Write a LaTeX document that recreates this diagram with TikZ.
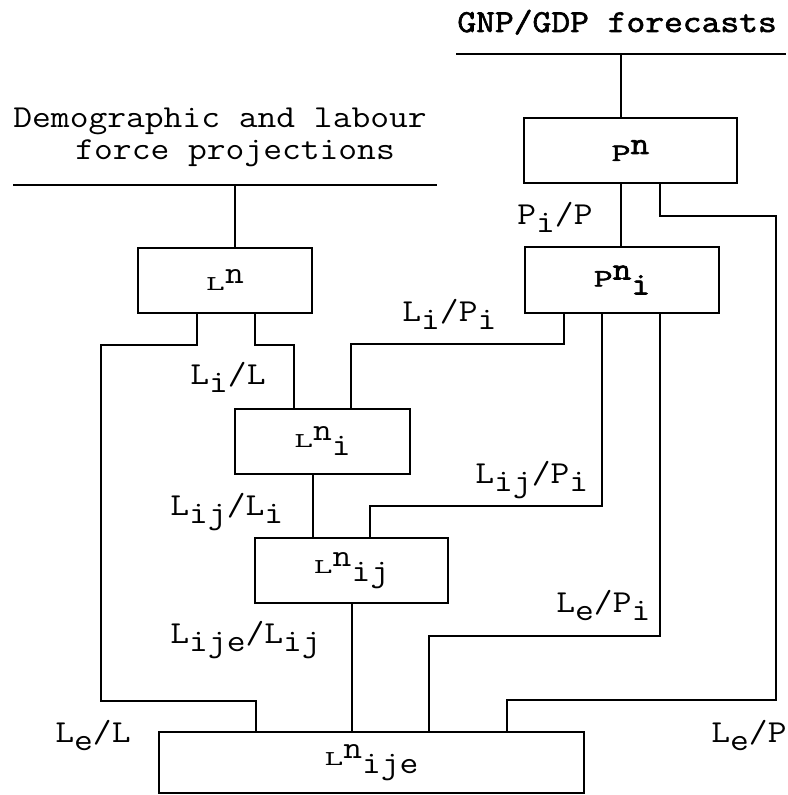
\documentclass[tikz,border=0pt]{standalone}
\usepackage{fontspec}
\setmainfont{Latin Modern Mono}[FakeStretch=1.14,BoldFont=Latin Modern Mono,BoldFeatures={FakeBold=2}]
\usepackage{graphicx}
\newcommand{\bl}[1]{\scalebox{1}[0.66]{#1}}
\newcommand{\bp}[1]{\scalebox{1}[0.78]{#1}}
\newcommand{\su}[1]{\raisebox{3.5pt}{#1}}
\newcommand{\sd}[1]{\raisebox{-4pt}{#1}}
\begin{document}
\begin{tikzpicture}[x=0.5pt,y=-0.5pt,
  every node/.style={font=\fontsize{16}{16}\selectfont},
  box/.style={draw,line width=1pt,inner sep=0pt},
  wire/.style={line width=0.8pt},
  bar/.style={line width=1.3pt},
  lab/.style={anchor=base west,inner sep=0pt}]
\useasboundingbox (0,0) rectangle (787,795);
% headings
\node[lab] (gnp) at (457,32) {\textbf{GNP/GDP forecasts}};
\node[lab] (demo1) at (13,128) {Demographic and labour};
\node[lab] (demo2) at (75,160) {force projections};
\coordinate (gl) at (456,54); \coordinate (gr) at (786,54);
\coordinate (dl) at (13,185); \coordinate (dr) at (437,185);
\draw[bar] (gl) -- (gr);
\draw[bar] (dl) -- (dr);
% boxes
\node[box,minimum width=106.5pt,minimum height=32.5pt] (pn) at (630.5,150.5) {\textbf{\bp{P}\su{n}}};
\node[box,minimum width=97pt,minimum height=33pt] (pni) at (622,280) {\textbf{\bp{P}\su{n}\sd{i}}};
\node[box,minimum width=87pt,minimum height=32.5pt] (ln) at (225,280.5) {\bl{L}\su{n}};
\node[box,minimum width=87.5pt,minimum height=32.5pt] (lni) at (322.5,441.5) {\bl{L}\su{n}\sd{i}};
\node[box,minimum width=96.5pt,minimum height=32.5pt] (lnij) at (351.5,570.5) {\bl{L}\su{n}\sd{ij}};
\node[box,minimum width=212.5pt,minimum height=30.5pt] (lnije) at (371.5,762.5) {\bl{L}\su{n}\sd{ije}};
% junction coordinates
\coordinate (gj) at (621,54);
\coordinate (dj) at (235,185);
\coordinate (r1) at (660,216); \coordinate (r2) at (776,700); \coordinate (r3) at (507,700);
\coordinate (a1) at (564,344); \coordinate (a2) at (351,344);
\coordinate (b1) at (602,506); \coordinate (b2) at (370,506);
\coordinate (e1) at (660,636); \coordinate (e2) at (429,636);
\coordinate (f1) at (197,345); \coordinate (f2) at (101,345); \coordinate (f3) at (101,701); \coordinate (f4) at (256,701);
\coordinate (g1) at (255,345); \coordinate (g2) at (294,345);
\coordinate (h) at (313,500);
\coordinate (k) at (352,650);
% connectors
\draw[wire] (gj) -- (pn.north -| gj);
\draw[wire] (dj) -- (ln.north -| dj);
\draw[wire] (pn.south -| gj) -- (pni.north -| gj);
\draw[wire] (pn.south -| r1) -- (r1) -| (r2) -- (r3) -- (lnije.north -| r3);
\draw[wire] (pni.south -| a1) -- (a1) -- (a2) -- (lni.north -| a2);
\draw[wire] (pni.south -| b1) -- (b1) -- (b2) -- (lnij.north -| b2);
\draw[wire] (pni.south -| e1) -- (e1) -- (e2) -- (lnije.north -| e2);
\draw[wire] (ln.south -| f1) -- (f1) -- (f2) -- (f3) -- (f4) -- (lnije.north -| f4);
\draw[wire] (ln.south -| g1) -- (g1) -- (g2) -- (lni.north -| g2);
\draw[wire] (lni.south -| h) -- (lnij.north -| h);
\draw[wire] (lnij.south -| k) -- (lnije.north -| k);
% labels
\node[lab] (l1) at (517,225) {P\sd{i}/P};
\node[lab] (l2) at (402,322) {L\sd{i}/P\sd{i}};
\node[lab] (l3) at (190,385) {L\sd{i}/L};
\node[lab] (l4) at (475,483) {L\sd{ij}/P\sd{i}};
\node[lab] (l5) at (170,515) {L\sd{ij}/L\sd{i}};
\node[lab] (l6) at (556,612) {L\sd{e}/P\sd{i}};
\node[lab] (l7) at (170,643) {L\sd{ije}/L\sd{ij}};
\node[lab] (l8) at (55,742) {L\sd{e}/L};
\node[lab] (l9) at (711,742) {L\sd{e}/P};
\end{tikzpicture}
\end{document}
